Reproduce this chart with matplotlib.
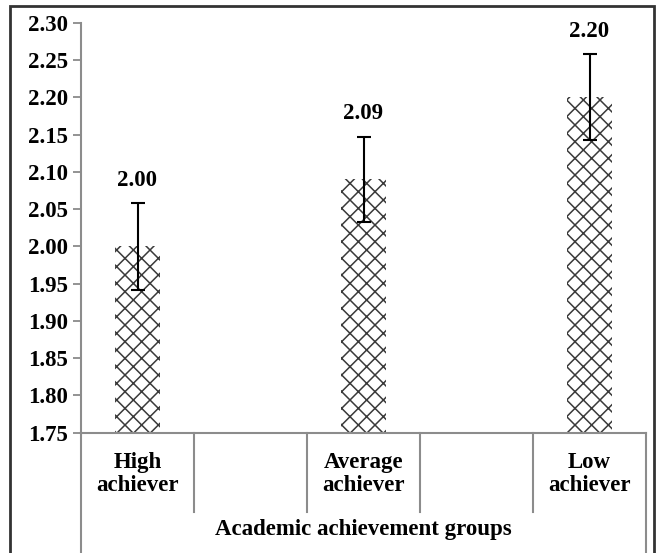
import matplotlib
matplotlib.use("Agg")
import matplotlib.pyplot as plt
from matplotlib.patches import Rectangle

# Data
categories = ["High\nachiever", "", "Average\nachiever", "", "Low\nachiever"]
bar_positions = [0, 2, 4]
means = [2.00, 2.09, 2.20]
errors = [0.058, 0.057, 0.058]
value_labels = ["2.00", "2.09", "2.20"]
yticks = [1.75, 1.80, 1.85, 1.90, 1.95, 2.00, 2.05, 2.10, 2.15, 2.20, 2.25, 2.30]
xlabel = "Academic achievement groups"

plt.rcParams['font.family'] = ['Liberation Serif', 'DejaVu Serif']
plt.rcParams['font.weight'] = 'bold'
plt.rcParams['hatch.linewidth'] = 1.1

FS = 16.5
W, H = 659, 553
fig = plt.figure(figsize=(W / 100, H / 100), dpi=100)
left, right = 81 / W, 646 / W
top, bottom = 1 - 22.7 / H, 1 - 432.7 / H
ax = fig.add_axes([left, bottom, right - left, top - bottom])

base = yticks[0]
heights = [m - base for m in means]
ax.bar(bar_positions, heights, bottom=base, width=0.4, color='white',
       edgecolor='#3a3a3a', linewidth=0, hatch='xx', zorder=2)
ax.errorbar(bar_positions, means, yerr=errors, fmt='none', ecolor='black',
            elinewidth=1.5, capsize=5, capthick=1.5, zorder=3)
for xp, m, e, lab in zip(bar_positions, means, errors, value_labels):
    ax.annotate(lab, xy=(xp, m + e), xytext=(0, 23), textcoords='offset pixels',
                ha='center', va='center', fontsize=FS, fontweight='bold')

ax.set_xlim(-0.5, len(categories) - 0.5)
ax.set_ylim(yticks[0], yticks[-1])
ax.set_yticks(yticks)
ax.set_yticklabels([f"{t:.2f}" for t in yticks], fontsize=FS, fontweight='bold')
ax.set_xticks([])
ax.tick_params(axis='y', length=6, width=1.2, color='#808080', pad=3.5)

for s in ['top', 'right']:
    ax.spines[s].set_visible(False)
gray = '#8c8c8c'
ax.spines['left'].set_color(gray)
ax.spines['bottom'].set_color(gray)
ax.spines['left'].set_linewidth(1.5)
ax.spines['bottom'].set_linewidth(1.5)

# Table-like category axis below
tr = ax.get_xaxis_transform()
px = (top - bottom) * H  # axes height in pixels
def yfrac(pix_below):
    return -pix_below / px

y_div = yfrac(512 - 432.7)
y_end = yfrac(H - 432.7 + 5)
n = len(categories)
for b in [i + 0.5 for i in range(n - 1)]:
    ax.plot([b, b], [0, y_div], transform=tr, color=gray, lw=1.5, clip_on=False)
ax.plot([-0.5, -0.5], [0, y_end], transform=tr, color=gray, lw=1.5, clip_on=False)
ax.plot([n - 0.5, n - 0.5], [0, y_end], transform=tr, color=gray, lw=1.5, clip_on=False)
for i, c in enumerate(categories):
    if c:
        ax.text(i, yfrac(474 - 432.7), c, transform=tr, ha='center', va='center',
                fontsize=FS, fontweight='bold', linespacing=1.12)
ax.text(0.5, yfrac(530 - 432.7), xlabel, transform=ax.transAxes, ha='center',
        va='center', fontsize=FS, fontweight='bold')

# Outer border
fig.patches.append(Rectangle((10 / W, -0.05), (654 - 10) / W, 1.05 - 6 / H,
                             transform=fig.transFigure, fill=False,
                             edgecolor='#333333', linewidth=2))

fig.savefig("out.png", dpi=100)
